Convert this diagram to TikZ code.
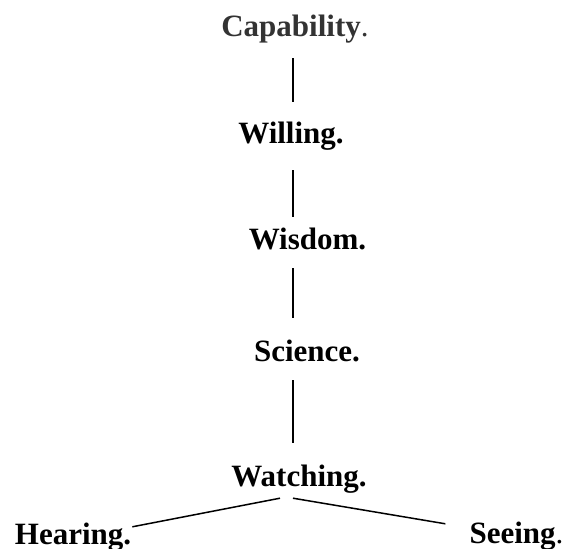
\documentclass[tikz,border=0pt]{standalone}
\usepackage{fontspec}
\setmainfont{Liberation Serif}
\definecolor{capgray}{HTML}{333333}
\begin{document}
\begin{tikzpicture}[x=1pt, y=-1pt,
  word/.style={inner sep=0pt, anchor=base, text height=22pt, text depth=7pt, font=\fontsize{31}{37}\selectfont\bfseries},
  link/.style={line width=1.5pt}]
  \useasboundingbox (0,0) rectangle (566,549);
  \coordinate (spine) at (293,0);
  % chain of words
  \node[word, text=capgray] (cap) at (295,36) {Capability{\mdseries.}};
  \node[word] (will) at (291,143) {Willing.};
  \node[word] (wis) at (307.5,249) {Wisdom.};
  \node[word] (sci) at (307,361) {Science.};
  \node[word] (wat) at (299,486) {Watching.};
  \node[word] (hear) at (73,544) {Hearing.};
  \node[word] (see) at (516.5,543) {Seeing{\mdseries.}};
  % spine
  \draw[link, shorten <=15pt, shorten >=19pt] (cap.south -| spine) -- (will.north -| spine);
  \draw[link, shorten <=20pt, shorten >=10pt] (will.south -| spine) -- (wis.north -| spine);
  \draw[link, shorten <=12pt, shorten >=21pt] (wis.south -| spine) -- (sci.north -| spine);
  \draw[link, shorten <=12pt, shorten >=21pt] (sci.south -| spine) -- (wat.north -| spine);
  % branches
  \draw[link] ([xshift=-19pt, yshift=-5pt]wat.south) -- ([xshift=1pt, yshift=-5pt]hear.north east);
  \draw[link] ([xshift=-6pt, yshift=-5pt]wat.south) -- ([xshift=-24pt, yshift=-3pt]see.north west);
\end{tikzpicture}
\end{document}
